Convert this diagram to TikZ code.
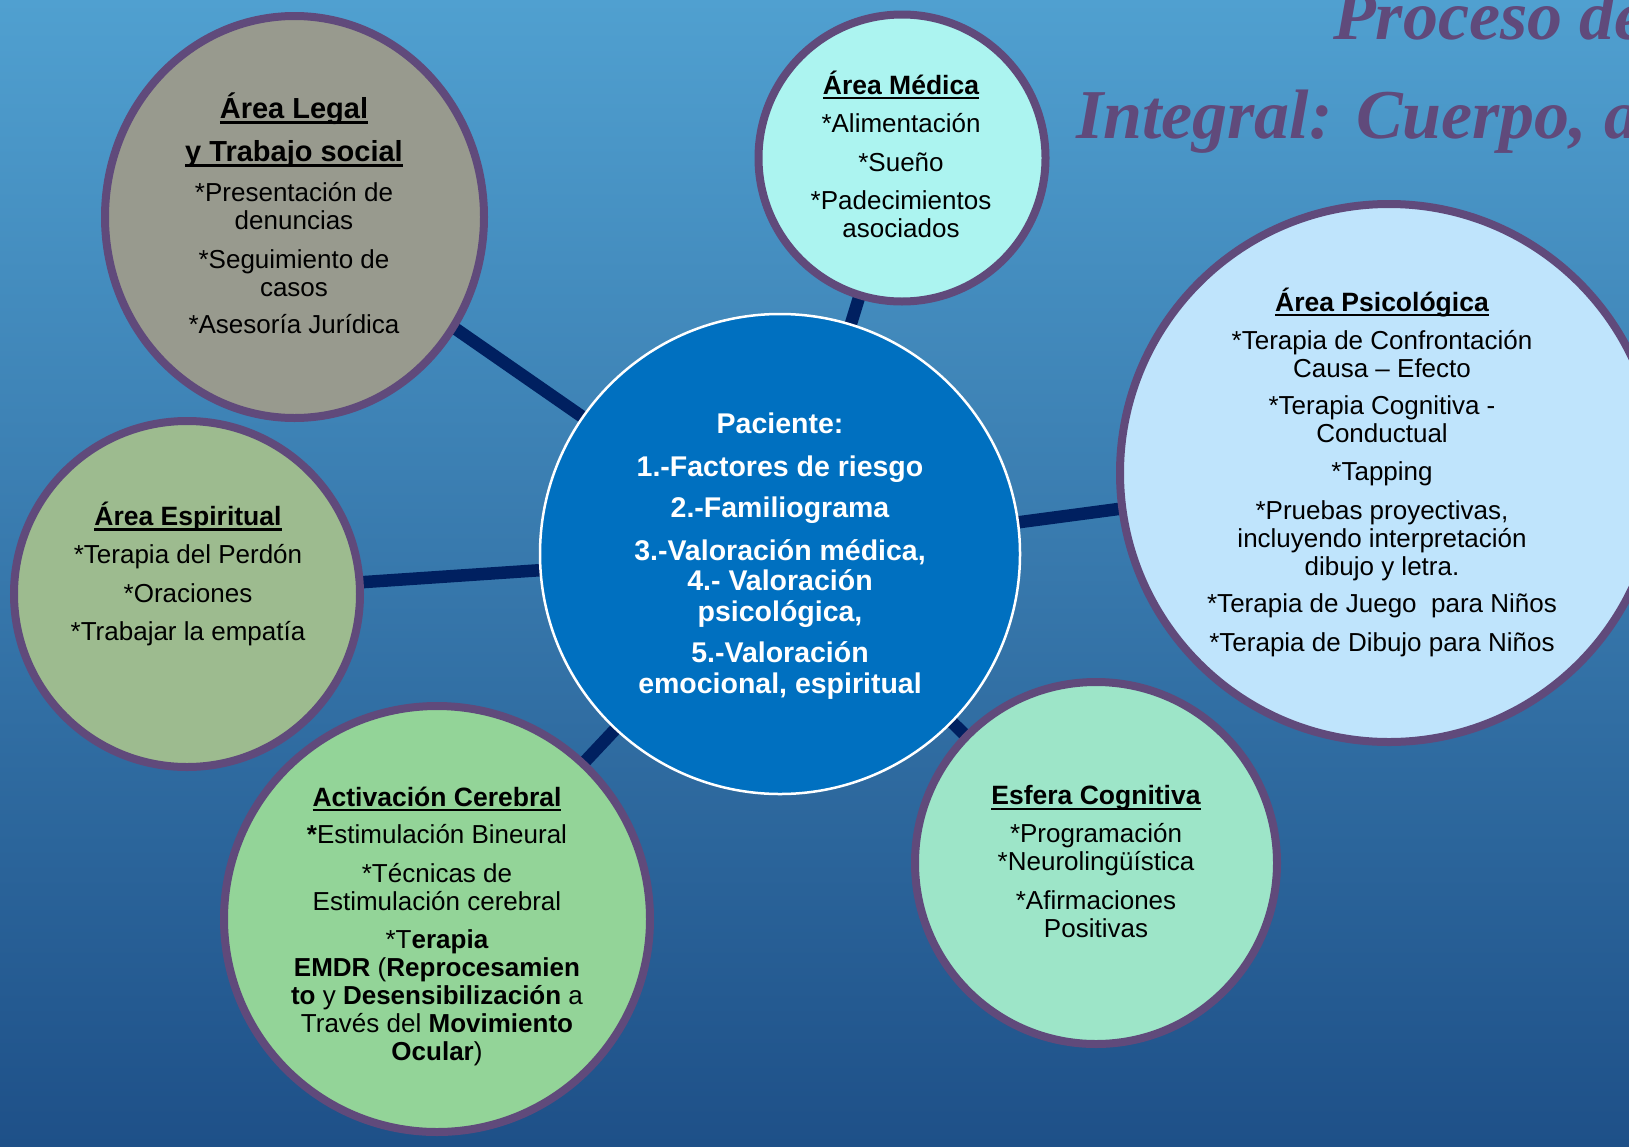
\documentclass[tikz,border=0pt]{standalone}
\usepackage{fontspec}
\setmainfont{Liberation Sans}
\newfontfamily\titlefont{Liberation Serif}
\usetikzlibrary{shapes.geometric}
\definecolor{bgtop}{RGB}{80,160,208}
\definecolor{bgbot}{RGB}{30,80,136}
\definecolor{bord}{RGB}{96,74,123}
\definecolor{navyc}{RGB}{0,32,96}
\definecolor{cLegal}{RGB}{152,154,142}
\definecolor{cMed}{RGB}{172,244,240}
\definecolor{cPsi}{RGB}{191,228,252}
\definecolor{cPac}{RGB}{0,112,192}
\definecolor{cEsp}{RGB}{157,187,143}
\definecolor{cAct}{RGB}{147,212,152}
\definecolor{cCog}{RGB}{157,229,200}
\definecolor{titlec}{RGB}{96,74,123}
\newsavebox\ulbox
\newcommand\myul[1]{\sbox\ulbox{#1}\rlap{\rule[-0.2em]{\wd\ulbox}{0.09em}}\usebox\ulbox}
\newcommand\hdf{\fontsize{26.5}{28}\selectfont\bfseries}
\pgfdeclarelayer{bgl}
\pgfdeclarelayer{lines}
\pgfsetlayers{bgl,lines,main}
\tikzset{
  circ/.style={circle, draw=bord, line width=8pt, inner sep=0pt, outer sep=0pt},
  txt/.style={align=center, inner sep=0pt, outer sep=0pt, text=black, font=\fontsize{26}{28}\selectfont},
  conn/.style={draw=navyc, line width=12.5pt},
  titletxt/.style={inner sep=0pt, outer sep=0pt, anchor=base west, text=titlec, font=\titlefont\fontsize{70}{76}\selectfont\bfseries\itshape}
}
\begin{document}
\begin{tikzpicture}[x=1pt,y=-1pt]
\useasboundingbox (0,0) rectangle (1629,1146);
\begin{pgfonlayer}{bgl}
\shade[top color=bgtop, bottom color=bgbot] (0,0) rectangle (1629,1146);
\end{pgfonlayer}
\clip (0,0) rectangle (1629,1146);

% circles
\node[ellipse, draw=bord, line width=8pt, inner sep=0pt, outer sep=0pt, fill=cLegal, minimum width=379pt, minimum height=402pt] (legal) at (294.5,217) {};
\node[circ, fill=cMed, minimum size=287pt] (med) at (902,158) {};
\node[circ, fill=cPsi, minimum size=538pt] (psi) at (1389,473) {};
\node[circle, draw=white, line width=2.5pt, fill=cPac, minimum size=480pt, inner sep=0pt, outer sep=0pt] (pac) at (780,554) {};
\node[circ, fill=cEsp, minimum size=346pt] (esp) at (187,594) {};
\node[circ, fill=cAct, minimum size=426pt] (act) at (437,919) {};
\node[circ, fill=cCog, minimum size=362pt] (cog) at (1096,863) {};

% connectors
\begin{pgfonlayer}{lines}
\draw[conn] (pac.center) -- (legal.center);
\draw[conn] (pac.center) -- (med.center);
\draw[conn] (pac.center) -- (psi.center);
\draw[conn] (pac.center) -- (esp.center);
\draw[conn] (pac.center) -- (act.center);
\draw[conn] (pac.center) -- (cog.center);
\end{pgfonlayer}

% texts
\node[txt] (legalt) at (294,213) {{\fontsize{29}{31}\selectfont\bfseries\myul{Área Legal}}\\[15pt]{\fontsize{29}{31}\selectfont\bfseries\myul{y Trabajo social}}\\[12pt]*Presentación de\\denuncias\\[11pt]*Seguimiento de\\casos\\[9pt]*Asesoría Jurídica};

\node[txt] (medt) at (901,154) {{\hdf\myul{Área Médica}}\\[10pt]*Alimentación\\[11pt]*Sueño\\[10pt]*Padecimientos\\asociados};

\node[txt] (psit) at (1382,472) {{\hdf\myul{Área Psicológica}}\\[10pt]*Terapia de Confrontación\\Causa – Efecto\\[9.5pt]*Terapia Cognitiva -\\Conductual\\[10pt]*Tapping\\[10.5pt]*Pruebas proyectivas,\\incluyendo interpretación\\dibujo y letra.\\[9.5pt]*Terapia de Juego~ para Niños\\[10.5pt]*Terapia de Dibujo para Niños};

\node[txt, text=white, font=\fontsize{28.5}{30.5}\selectfont\bfseries] (pact) at (780,556) {Paciente:\\[12pt]1.-Factores de riesgo\\[11pt]2.-Familiograma\\[12pt]3.-Valoración médica,\\4.- Valoración\\psicológica,\\[11pt]5.-Valoración\\emocional, espiritual};

\node[txt] (espt) at (188,574) {{\hdf\myul{Área Espiritual}}\\[10.5pt]*Terapia del Perdón\\[10.5pt]*Oraciones\\[10.5pt]*Trabajar la empatía};

\node[txt] (actt) at (437,926) {{\hdf\myul{Activación Cerebral}}\\[9pt]\textbf{*}Estimulación Bineural\\[11pt]*Técnicas de\\Estimulación cerebral\\[10pt]*T\textbf{erapia}\\\textbf{EMDR} (\textbf{Reprocesamien}\\\textbf{to} y \textbf{Desensibilización} a\\Través del \textbf{Movimiento}\\\textbf{Ocular})};

\node[txt] (cogt) at (1096,862) {{\hdf\myul{Esfera Cognitiva}}\\[10pt]*Programación\\*Neurolingüística\\[11pt]*Afirmaciones\\Positivas};

% title
\node[titletxt] (title1) at (1333,39) {Proceso de};
\node[titletxt] (title2) at (1076,138) {Integral: Cuerpo, a};
\end{tikzpicture}
\end{document}
